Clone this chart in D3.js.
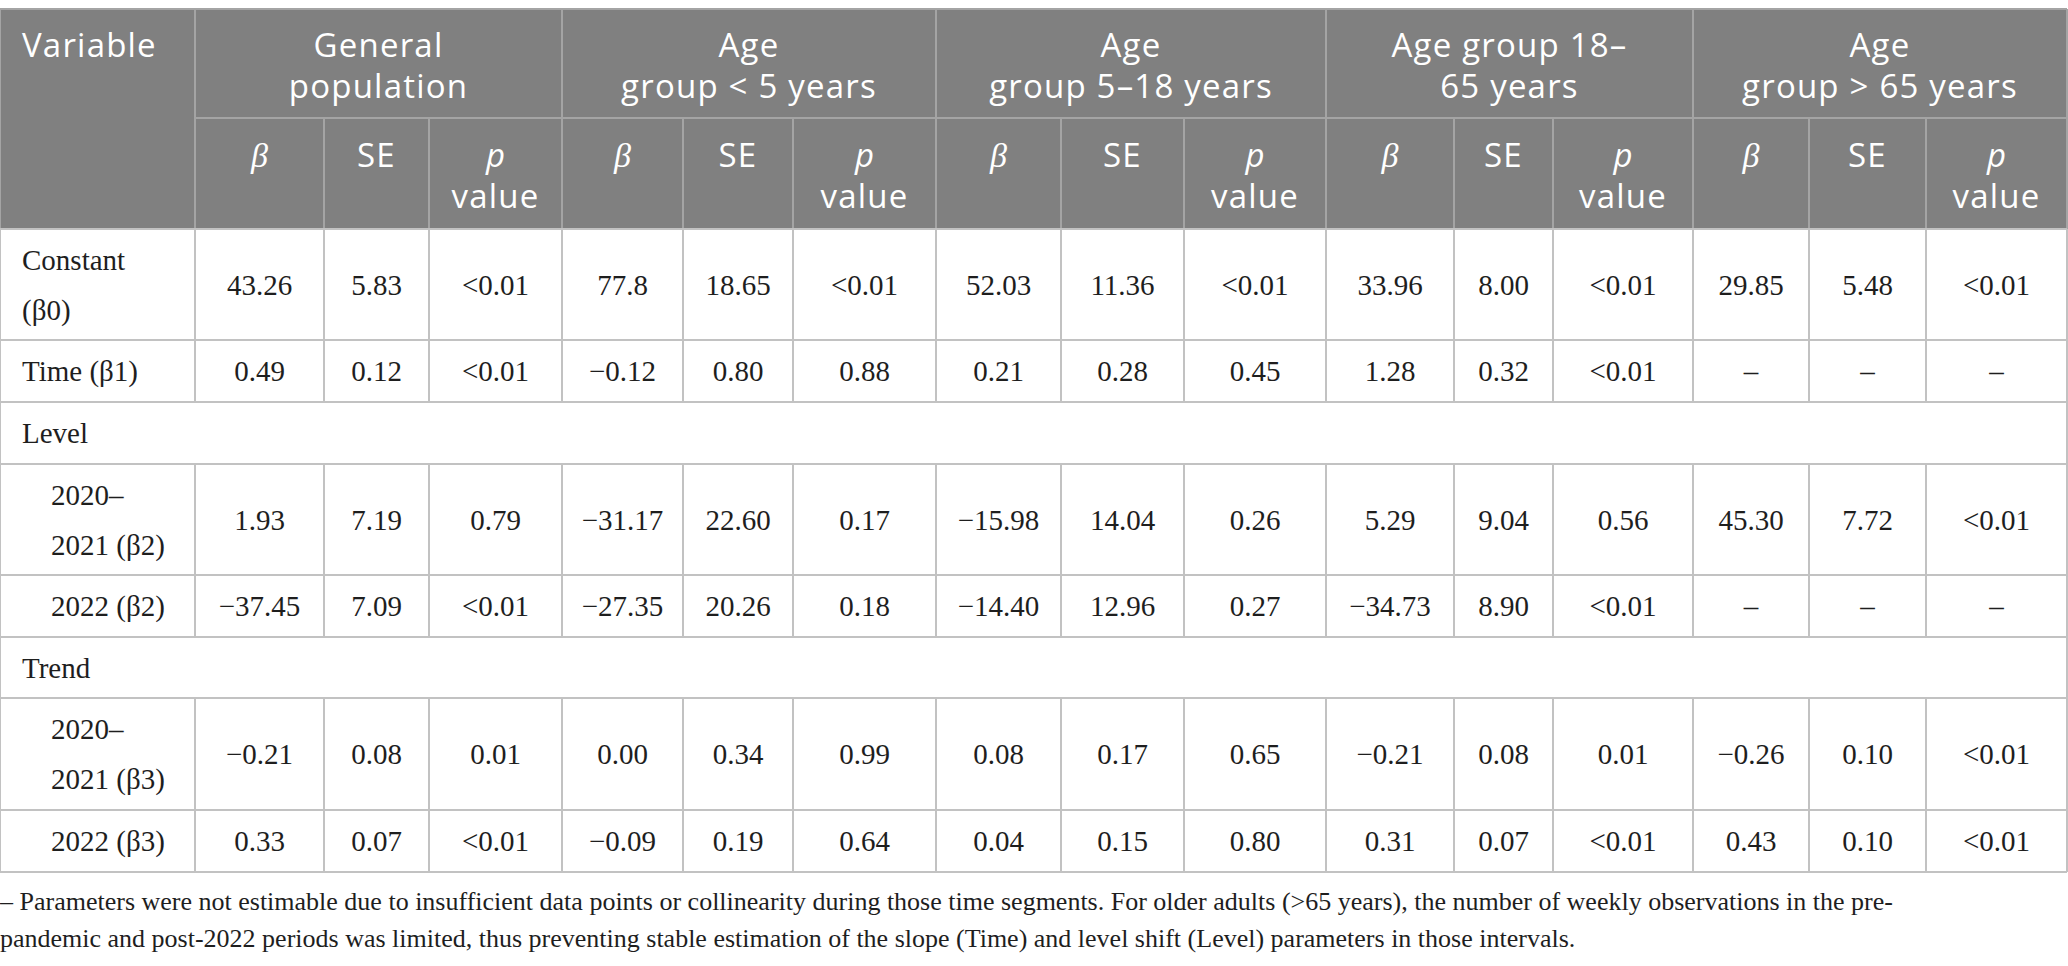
<!DOCTYPE html>
<html>
<head>
<meta charset="utf-8">
<script src="https://cdn.jsdelivr.net/npm/d3@7"></script>
<style>
html,body{margin:0;padding:0;background:#fff;}
svg{display:block;}
</style>
</head>
<body>
<svg id="chart"></svg>
<script>
// ---------------- DATA ----------------
const variableHeader = "Variable";
const groupTitles = [
  ["General", "population"],
  ["Age", "group < 5 years"],
  ["Age", "group 5–18 years"],
  ["Age group 18–", "65 years"],
  ["Age", "group > 65 years"]
];
const subHeaders = ["β", "SE", "p value"];
const rowLabels = [
  ["Constant", "(β0)"],
  ["Time (β1)"],
  ["Level"],
  ["2020–", "2021 (β2)"],
  ["2022 (β2)"],
  ["Trend"],
  ["2020–", "2021 (β3)"],
  ["2022 (β3)"]
];
const sectionRows = [2, 5];
const indentedRows = [3, 4, 6, 7];
const constantVals  = ["43.26","5.83","<0.01","77.8","18.65","<0.01","52.03","11.36","<0.01","33.96","8.00","<0.01","29.85","5.48","<0.01"];
const timeVals      = ["0.49","0.12","<0.01","−0.12","0.80","0.88","0.21","0.28","0.45","1.28","0.32","<0.01","–","–","–"];
const level2021Vals = ["1.93","7.19","0.79","−31.17","22.60","0.17","−15.98","14.04","0.26","5.29","9.04","0.56","45.30","7.72","<0.01"];
const level2022Vals = ["−37.45","7.09","<0.01","−27.35","20.26","0.18","−14.40","12.96","0.27","−34.73","8.90","<0.01","–","–","–"];
const trend2021Vals = ["−0.21","0.08","0.01","0.00","0.34","0.99","0.08","0.17","0.65","−0.21","0.08","0.01","−0.26","0.10","<0.01"];
const trend2022Vals = ["0.33","0.07","<0.01","−0.09","0.19","0.64","0.04","0.15","0.80","0.31","0.07","<0.01","0.43","0.10","<0.01"];
const footnoteLines = [
  "– Parameters were not estimable due to insufficient data points or collinearity during those time segments. For older adults (>65 years), the number of weekly observations in the pre-",
  "pandemic and post-2022 periods was limited, thus preventing stable estimation of the slope (Time) and level shift (Level) parameters in those intervals."
];

// ---------------- LAYOUT ----------------
const W = 2068, H = 966;
const colEdges = [0,195,324,429,562,683,793,936,1061,1184,1326,1454,1553,1693,1809,1926,2067];
const rowEdges = [229,340,402,464,575,637,698,810,872];
const headTop = 9, headMid = 118, headBot = 229;
const serif = "'Liberation Serif','Times New Roman',serif";
const sans = "'Open Sans','Noto Sans',sans-serif";
const headerFill = "#808080", headerLine = "#a4a4a4", bodyLine = "#c2c2c2";
const textColor = "#1e1e1e";
const hSize = 33, hSpacing = 1.2;

const bodyValues = [constantVals, timeVals, null, level2021Vals, level2022Vals, null, trend2021Vals, trend2022Vals];

const x = d3.scaleLinear().domain(d3.range(colEdges.length)).range(colEdges);
const y = d3.scaleLinear().domain(d3.range(rowEdges.length)).range(rowEdges);

const svg = d3.select("#chart").attr("width", W).attr("height", H)
  .attr("viewBox", `0 0 ${W} ${H}`);

// ---------- header ----------
svg.append("rect").attr("x", x(0)).attr("y", headTop)
  .attr("width", x(16) - x(0)).attr("height", headBot - headTop)
  .attr("fill", headerFill);

const hl = svg.append("g").attr("stroke", headerLine).attr("stroke-width", 2);
hl.append("line").attr("x1", x(0)).attr("x2", x(16)).attr("y1", headTop).attr("y2", headTop);
hl.append("line").attr("x1", x(1)).attr("x2", x(16)).attr("y1", headMid).attr("y2", headMid);
[0,1,4,7,10,13,16].forEach(i => {
  hl.append("line").attr("x1", x(i)).attr("x2", x(i)).attr("y1", headTop).attr("y2", headBot);
});
d3.range(1,16).filter(i => (i - 1) % 3 !== 0).forEach(i => {
  hl.append("line").attr("x1", x(i)).attr("x2", x(i)).attr("y1", headMid).attr("y2", headBot);
});

svg.append("text").attr("x", 22).attr("y", 57)
  .attr("font-family", sans).attr("font-size", hSize).attr("letter-spacing", hSpacing)
  .attr("fill", "#fff").text(variableHeader);

const gt = svg.append("g").attr("font-family", sans).attr("font-size", hSize)
  .attr("letter-spacing", hSpacing).attr("fill", "#fff").attr("text-anchor", "middle");
groupTitles.forEach((lines, g) => {
  const cx = (x(1 + g * 3) + x(4 + g * 3)) / 2;
  lines.forEach((ln, k) => {
    gt.append("text").attr("x", cx).attr("y", 57 + k * 41).text(ln);
  });
});

groupTitles.forEach((_, g) => {
  subHeaders.forEach((sh, s) => {
    const ci = 1 + g * 3 + s;
    const cx = (x(ci) + x(ci + 1)) / 2;
    if (s === 0) {
      svg.append("text").attr("x", cx).attr("y", 167).attr("text-anchor", "middle")
        .attr("font-family", serif).attr("font-style", "italic").attr("font-size", 34)
        .attr("fill", "#fff").text(sh);
    } else if (s === 1) {
      svg.append("text").attr("x", cx).attr("y", 167).attr("text-anchor", "middle")
        .attr("font-family", sans).attr("font-size", hSize).attr("letter-spacing", hSpacing)
        .attr("fill", "#fff").text(sh);
    } else {
      const parts = sh.split(" ");
      svg.append("text").attr("x", cx).attr("y", 167).attr("text-anchor", "middle")
        .attr("font-family", sans).attr("font-style", "italic").attr("font-size", hSize)
        .attr("fill", "#fff").text(parts[0]);
      svg.append("text").attr("x", cx).attr("y", 208).attr("text-anchor", "middle")
        .attr("font-family", sans).attr("font-size", hSize).attr("letter-spacing", hSpacing)
        .attr("fill", "#fff").text(parts[1]);
    }
  });
});

// ---------- body grid ----------
const bl = svg.append("g").attr("stroke", bodyLine).attr("stroke-width", 2);
d3.range(rowEdges.length).forEach(r => {
  bl.append("line").attr("x1", x(0)).attr("x2", x(16)).attr("y1", y(r)).attr("y2", y(r));
});
rowLabels.forEach((_, r) => {
  const isSection = sectionRows.includes(r);
  const cols = isSection ? [0, 16] : d3.range(0, 17);
  cols.forEach(i => {
    bl.append("line").attr("x1", x(i)).attr("x2", x(i)).attr("y1", y(r)).attr("y2", y(r + 1));
  });
});

// ---------- body text ----------
const bt = svg.append("g").attr("font-family", serif).attr("font-size", 29).attr("fill", textColor);
rowLabels.forEach((lines, r) => {
  const cy = (y(r) + y(r + 1)) / 2;
  const lx = indentedRows.includes(r) ? 51 : 22;
  const n = lines.length;
  lines.forEach((ln, k) => {
    bt.append("text").attr("x", lx).attr("y", cy + 10 + (k - (n - 1) / 2) * 50).text(ln);
  });
  const vals = bodyValues[r];
  if (vals) {
    vals.forEach((v, c) => {
      const cx = (x(c + 1) + x(c + 2)) / 2;
      bt.append("text").attr("x", cx).attr("y", cy + 10).attr("text-anchor", "middle").text(v);
    });
  }
});

// ---------- footnote ----------
const fn = svg.append("g").attr("font-family", serif).attr("font-size", 26).attr("fill", textColor);
footnoteLines.forEach((ln, k) => {
  fn.append("text").attr("x", 0).attr("y", 910 + k * 37).text(ln);
});
</script>
</body>
</html>
